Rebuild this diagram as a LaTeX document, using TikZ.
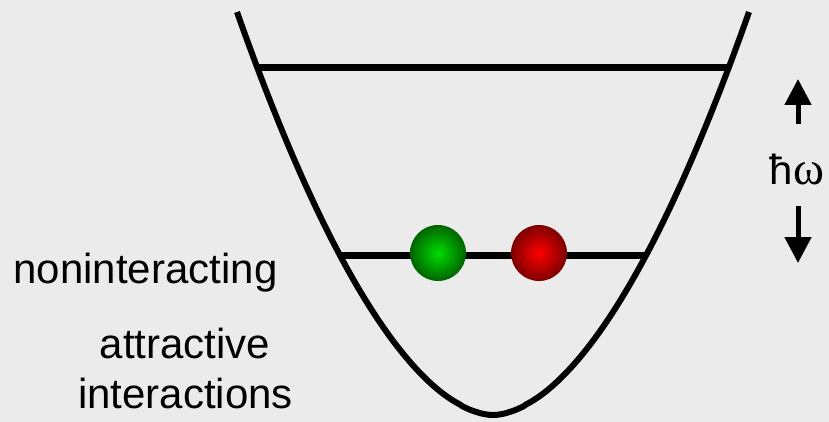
\documentclass[tikz,border=0pt]{standalone}
\usepackage{fontspec}
\setmainfont{Liberation Sans}
\newfontfamily\serifom{Liberation Serif}
\usetikzlibrary{arrows.meta}
\definecolor{bg}{RGB}{235,235,235}
\definecolor{gin}{RGB}{0,220,0}
\definecolor{gout}{RGB}{0,100,0}
\definecolor{rin}{RGB}{255,0,0}
\definecolor{rout}{RGB}{125,0,0}
\tikzset{
  well/.style={line width=6pt},
  level/.style={line width=7pt},
  lbl/.style={font=\fontsize{42}{50}\selectfont, inner sep=0pt, anchor=base},
  arr/.style={line width=5pt, -{Triangle[width=26pt,length=26pt]}},
  gball/.style={circle, minimum size=56pt, inner sep=0pt, inner color=gin, outer color=gout},
  rball/.style={circle, minimum size=56pt, inner sep=0pt, inner color=rin, outer color=rout}
}
\begin{document}
\begin{tikzpicture}[x=1pt,y=-1pt]
\useasboundingbox[fill=bg] (0,0) rectangle (829,422);
\draw[well] plot[domain=-256:256, samples=240, variable=\t] ({493+\t},{415-403*pow(abs(\t)/256+0.00001,1.8)});
\coordinate (t1) at (258,68);
\coordinate (t2) at (729,68);
\coordinate (b1) at (340,255);
\coordinate (b2) at (647,255);
\draw[level] (t1) -- (t2);
\draw[level] (b1) -- (b2);
\node[gball] (g) at (438,253) {};
\node[rball] (r) at (539,253) {};
\node[lbl] (non) at (145.5,283) {noninteracting};
\node[lbl] (att) at (185,358) {attractive};
\node[lbl] (int) at (185.5,408) {interactions};
\node[lbl] (hw) at (797,185) {ħ{\fontsize{47}{50}\selectfont\serifom ω}};
\coordinate (u0) at (798,124);
\coordinate (u1) at (798,79);
\coordinate (d0) at (798,206);
\coordinate (d1) at (798,263);
\draw[arr] (u0) -- (u1);
\draw[arr] (d0) -- (d1);
\end{tikzpicture}
\end{document}
